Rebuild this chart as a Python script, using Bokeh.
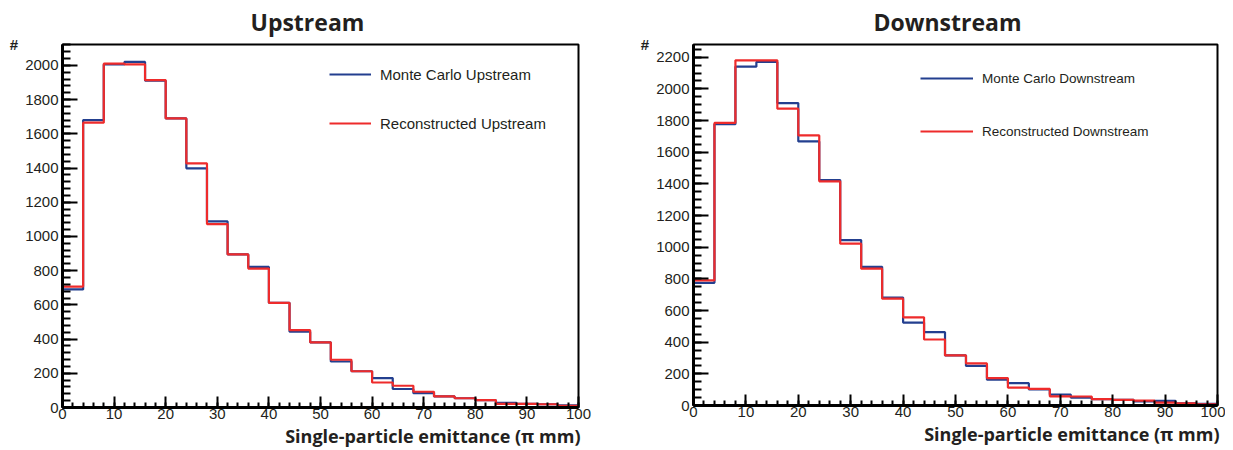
from bokeh.plotting import figure
from bokeh.models import Range1d, SingleIntervalTicker, Legend, LegendItem, Title
from bokeh.layouts import row
from bokeh.embed import file_html
from bokeh.resources import INLINE

# bin edges (emittance, pi mm)
edges = [0, 4, 8, 12, 16, 20, 24, 28, 32, 36, 40, 44, 48, 52, 56, 60, 64, 68, 72, 76, 80, 84, 88, 92, 96, 100]

up_mc = [690, 1680, 2005, 2020, 1910, 1690, 1398, 1088, 895, 822, 612, 443, 381, 269, 212, 172, 108, 84, 65, 54, 43, 27, 21, 19, 12]
up_reco = [707, 1665, 2010, 2006, 1914, 1690, 1427, 1072, 895, 812, 612, 452, 381, 279, 212, 146, 127, 92, 65, 54, 43, 21, 21, 19, 10]

down_mc = [775, 1777, 2140, 2170, 1910, 1668, 1424, 1045, 876, 682, 524, 463, 316, 250, 163, 141, 101, 69, 50, 40, 36, 26, 29, 14, 10]
down_reco = [790, 1785, 2180, 2180, 1875, 1706, 1416, 1022, 864, 675, 557, 417, 316, 266, 173, 113, 105, 58, 57, 40, 36, 31, 18, 14, 7]

titles = ["Upstream", "Downstream"]
x_title = "Single-particle emittance (\u03c0 mm)"
legend_up = ["Monte Carlo Upstream", "Reconstructed Upstream"]
legend_down = ["Monte Carlo Downstream", "Reconstructed Downstream"]

BLUE = "#233f8f"
RED = "#ee2b2b"
TXT = "#231f20"


def make(title, title_off, mc, reco, labels, ymax, yminor, width, height, bl, br, bt, bb,
         leg_loc, glyph_w, spacing, leg_font):
    p = figure(width=width, height=height, output_backend="svg", toolbar_location=None,
               x_range=Range1d(0, 100), y_range=Range1d(0, ymax),
               min_border_left=bl, min_border_right=br, min_border_top=bt, min_border_bottom=bb)
    p.grid.visible = False
    p.outline_line_color = "black"
    p.outline_line_width = 2
    p.outline_line_alpha = 1.0
    p.background_fill_color = "white"
    p.border_fill_color = "white"

    p.title.text = title
    p.title.text_font = "Open Sans"
    p.title.text_font_style = "bold"
    p.title.text_font_size = "23px"
    p.title.text_color = TXT
    p.title.align = "left"
    p.title.vertical_align = "top"
    p.title.text_line_height = 0.85
    p.title.offset = title_off
    p.title.standoff = 10

    xs = edges
    r1 = p.step(xs, mc + [mc[-1]], mode="after", line_color=BLUE, line_width=2.2)
    r2 = p.step(xs, reco + [reco[-1]], mode="after", line_color=RED, line_width=2.2)

    xa = p.xaxis[0]
    xa.ticker = SingleIntervalTicker(interval=10, num_minor_ticks=5)
    xa.major_label_text_font = "Liberation Sans"
    xa.major_label_text_font_size = "15px"
    xa.major_label_text_color = TXT
    xa.major_label_standoff = 1
    xa.axis_line_width = 3
    xa.major_tick_in = 11
    xa.major_tick_out = 0
    xa.minor_tick_in = 5
    xa.minor_tick_out = 0
    xa.major_tick_line_width = 2
    xa.minor_tick_line_width = 2

    xt = Title(text=x_title, align="right", text_font="Open Sans", text_font_style="bold",
               text_font_size="18px", text_color=TXT, standoff=0, offset=-2)
    p.add_layout(xt, "below")

    ya = p.yaxis[0]
    ya.ticker = SingleIntervalTicker(interval=200, num_minor_ticks=yminor)
    ya.axis_label = "#"
    ya.axis_label_orientation = "horizontal"
    ya.axis_label_align = "end"
    ya.axis_label_text_font = "Liberation Sans"
    ya.axis_label_text_font_style = "bold"
    ya.axis_label_text_font_size = "15px"
    ya.axis_label_text_color = TXT
    ya.axis_label_standoff = 4
    ya.major_label_text_font = "Liberation Sans"
    ya.major_label_text_font_size = "15px"
    ya.major_label_text_color = TXT
    ya.major_label_standoff = 4
    ya.axis_line_width = 3
    ya.major_tick_in = 15
    ya.major_tick_out = 0
    ya.minor_tick_in = 8
    ya.minor_tick_out = 0
    ya.major_tick_line_width = 2
    ya.minor_tick_line_width = 2

    leg = Legend(items=[LegendItem(label=labels[0], renderers=[r1]),
                        LegendItem(label=labels[1], renderers=[r2])],
                 location=leg_loc, padding=0, margin=0, spacing=spacing,
                 glyph_width=glyph_w, glyph_height=20, label_height=20,
                 label_standoff=9, border_line_alpha=0, background_fill_alpha=0,
                 label_text_font="Liberation Sans", label_text_font_size=leg_font,
                 label_text_color=TXT)
    p.add_layout(leg, "center")
    return p


p1 = make(titles[0], 188, up_mc, up_reco, legend_up, 2122, 5, 616, 450, 62, 38, 42, 39,
          (267, 274), 42, 29, "15px")
p2 = make(titles[1], 180, down_mc, down_reco, legend_down, 2280, 4, 609, 448, 77, 8, 43, 43,
          (227, 264), 53, 33, "13.5px")

layout = row(p1, p2)
open("out.html", "w").write(file_html(layout, INLINE))
